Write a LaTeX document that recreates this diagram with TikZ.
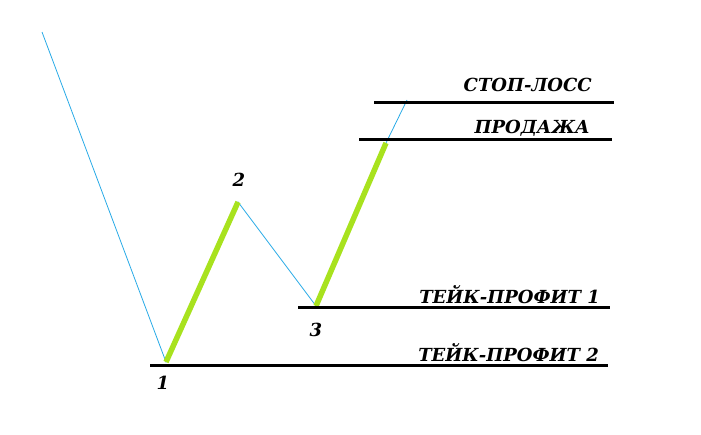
\documentclass[tikz,border=0pt]{standalone}
\usepackage{fontspec}
\setmainfont{DejaVu Serif}
\definecolor{wave}{RGB}{40,170,230}
\definecolor{impulse}{RGB}{168,226,30}
\begin{document}
\begin{tikzpicture}[x=1pt,y=-1pt,
  level/.style={line width=3pt,black},
  thin wave/.style={wave,line width=0.8pt},
  thick wave/.style={impulse,line width=5.5pt},
  lbl/.style={font=\bfseries\itshape\fontsize{18}{18}\selectfont,inner sep=0pt},
  num/.style={font=\bfseries\itshape\fontsize{18}{18}\selectfont,inner sep=0pt}]
\useasboundingbox (0,0) rectangle (701,434);
% wave points
\coordinate (p0) at (42,32);
\coordinate (p1) at (166,362);
\coordinate (p2) at (238,202);
\coordinate (p3) at (316,306);
\coordinate (p4) at (386,143);
\coordinate (p5) at (407,100);
% level line ends
\coordinate (slA) at (374,102); \coordinate (slB) at (614,102);
\coordinate (prA) at (359,139); \coordinate (prB) at (612,139);
\coordinate (t1A) at (298,307); \coordinate (t1B) at (610,307);
\coordinate (t2A) at (150,365); \coordinate (t2B) at (608,365);
\draw[thin wave] (p0) -- (p1) -- (p2) -- (p3) -- (p4) -- (p5);
\draw[thick wave] (p1) -- (p2);
\draw[thick wave] (p3) -- (p4);
\draw[level] (slA) -- (slB);
\draw[level] (prA) -- (prB);
\draw[level] (t1A) -- (t1B);
\draw[level] (t2A) -- (t2B);
\node[lbl,anchor=east] (sl) at (592,85) {СТОП-ЛОСС};
\node[lbl,anchor=east] (pr) at (590,128) {ПРОДАЖА};
\node[lbl,anchor=east] (t1) at (600,295) {ТЕЙК-ПРОФИТ 1};
\node[lbl,anchor=east] (t2) at (599,353) {ТЕЙК-ПРОФИТ 2};
\node[num] (n1) at (163,383) {1};
\node[num] (n2) at (239,180) {2};
\node[num] (n3) at (316,330) {3};
\end{tikzpicture}
\end{document}
